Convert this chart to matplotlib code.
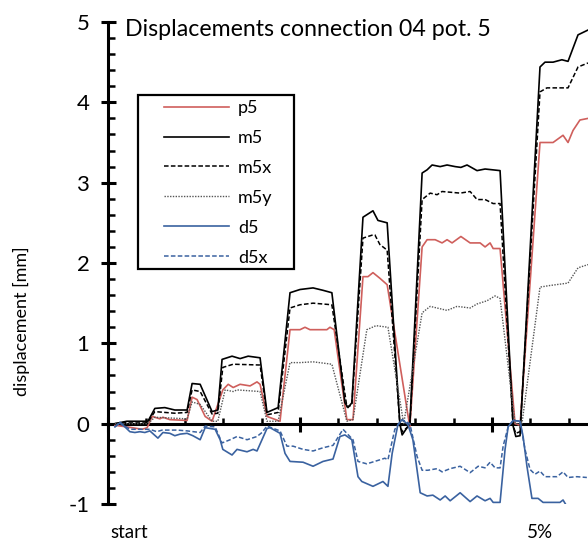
import numpy as np
import matplotlib
matplotlib.use('Agg')
import matplotlib.pyplot as plt
from matplotlib.ticker import MultipleLocator
from matplotlib.patches import Rectangle
import matplotlib.transforms as mtransforms

plt.rcParams['font.family'] = ['Lato', 'DejaVu Sans']
plt.rcParams['axes.unicode_minus'] = False

# time axis in load-step units (one minor tick = 1)
p5_t = [0.18, 0.49, 0.89, 1.02, 1.15, 1.35, 1.43, 1.61, 2.06, 2.19, 2.32, 2.53, 2.71, 2.99,
        3.13, 3.26, 3.44, 3.70, 3.88, 3.96, 4.14, 4.48, 4.74, 5.00, 5.13, 5.26, 5.70, 5.78,
        5.89, 6.22, 6.38, 6.64, 6.77, 6.90, 7.08, 7.27, 7.86, 8.18, 8.31, 8.52, 8.70, 8.83,
        8.96, 9.19, 9.43, 9.69, 9.82, 9.95, 10.03, 10.21, 10.60, 10.73, 11.25, 11.59, 11.85,
        11.98, 12.11, 12.29, 12.50]
p5 = [-0.02, -0.04, -0.07, -0.05, 0.09, 0.06, 0.08, 0.05, 0.04, 0.33, 0.30, 0.09, 0.03, 0.42,
      0.49, 0.45, 0.49, 0.47, 0.52, 0.49, 0.09, 0.03, 1.17, 1.17, 1.20, 1.17, 1.17, 1.20,
      1.17, 0.05, 0.05, 1.83, 1.83, 1.88, 1.81, 1.73, -0.04, 2.20, 2.29, 2.29, 2.25, 2.29,
      2.25, 2.33, 2.25, 2.25, 2.20, 2.25, 2.18, 2.18, 0.00, -0.02, 3.50, 3.50, 3.59,
      3.50, 3.65, 3.78, 3.80]

m5_t = [0.18, 0.49, 1.04, 1.22, 1.48, 1.74, 2.06, 2.19, 2.40, 2.71, 2.86, 2.97, 3.23, 3.44,
        3.65, 3.96, 4.14, 4.43, 4.74, 5.00, 5.34, 5.60, 5.83, 6.17, 6.25, 6.35, 6.64, 6.90,
        7.03, 7.27, 7.60, 7.66, 7.86, 8.18, 8.31, 8.44, 8.65, 8.83, 9.04, 9.19, 9.35, 9.61,
        9.82, 10.21, 10.55, 10.62, 10.73, 11.25, 11.38, 11.59, 11.82, 11.98, 12.24, 12.50]
m5 = [0.00, 0.03, 0.03, 0.19, 0.20, 0.17, 0.17, 0.50, 0.49, 0.15, 0.17, 0.80, 0.84, 0.81,
      0.84, 0.82, 0.14, 0.20, 1.63, 1.67, 1.69, 1.66, 1.63, 0.26, 0.20, 0.26, 2.57, 2.65,
      2.53, 2.50, 0.00, -0.14, 0.00, 3.12, 3.16, 3.22, 3.20, 3.22, 3.20, 3.19, 3.22, 3.15,
      3.17, 3.15, -0.03, -0.16, -0.15, 4.44, 4.50, 4.50, 4.53, 4.51, 4.84, 4.90]

m5x_t = [0.18, 0.49, 1.04, 1.22, 1.48, 1.74, 2.06, 2.19, 2.40, 2.71, 2.86, 2.99, 3.26, 3.96,
         4.14, 4.43, 4.74, 5.00, 5.34, 5.83, 6.22, 6.35, 6.64, 6.90, 6.95, 7.08, 7.27, 7.60,
         7.66, 7.86, 8.18, 8.39, 8.57, 8.70, 9.17, 9.43, 9.61, 9.82, 10.03, 10.21, 10.55,
         10.62, 10.73, 11.25, 11.43, 11.98, 12.24, 12.50]
m5x = [0.00, 0.02, 0.02, 0.15, 0.14, 0.13, 0.14, 0.42, 0.40, 0.12, 0.13, 0.70, 0.74, 0.73,
       0.11, 0.14, 1.44, 1.48, 1.50, 1.48, 0.21, 0.23, 2.31, 2.35, 2.35, 2.23, 2.16, 0.00,
       -0.10, -0.02, 2.79, 2.87, 2.85, 2.89, 2.87, 2.89, 2.79, 2.79, 2.74, 2.74, -0.03,
       -0.12, -0.10, 4.13, 4.18, 4.18, 4.44, 4.49]

m5y_t = [0.18, 1.04, 1.22, 2.06, 2.19, 2.40, 2.71, 2.86, 3.05, 3.26, 3.36, 3.96, 4.14, 4.43,
         4.74, 5.00, 5.34, 5.83, 6.22, 6.38, 6.74, 6.98, 7.29, 7.70, 8.18, 8.39, 8.83, 9.09,
         9.43, 9.61, 9.87, 10.08, 10.21, 10.60, 10.78, 11.25, 11.51, 11.98, 12.24, 12.50]
m5y = [0.00, 0.00, 0.08, 0.06, 0.27, 0.24, 0.03, 0.03, 0.42, 0.40, 0.42, 0.40, 0.03, 0.03,
       0.76, 0.76, 0.77, 0.74, 0.03, 0.05, 1.17, 1.22, 1.20, 0.00, 1.38, 1.46, 1.41, 1.46,
       1.44, 1.49, 1.53, 1.59, 1.56, 0.00, 0.00, 1.70, 1.72, 1.75, 1.94, 1.98]

d5_t = [0.18, 0.31, 0.44, 0.57, 0.70, 0.83, 0.96, 1.09, 1.30, 1.43, 1.61, 1.74, 1.88, 2.06,
        2.21, 2.40, 2.53, 2.66, 2.79, 2.92, 2.99, 3.23, 3.36, 3.62, 3.78, 3.88, 4.01, 4.14,
        4.22, 4.48, 4.61, 4.74, 5.08, 5.34, 5.60, 5.86, 6.04, 6.17, 6.35, 6.51, 6.61, 6.90,
        7.16, 7.29, 7.40, 7.55, 7.66, 7.81, 7.94, 8.13, 8.31, 8.46, 8.65, 8.78, 8.91, 9.17,
        9.43, 9.61, 9.82, 9.95, 10.03, 10.21, 10.34, 10.42, 10.55, 10.73, 10.81, 10.91,
        11.04, 11.20, 11.33, 11.77, 11.85, 11.95, 12.16]
d5 = [-0.04, 0.01, -0.04, -0.10, -0.11, -0.10, -0.11, -0.09, -0.18, -0.11, -0.12, -0.15,
      -0.13, -0.12, -0.15, -0.20, -0.05, -0.06, -0.07, -0.20, -0.32, -0.39, -0.32, -0.35,
      -0.32, -0.34, -0.20, -0.06, -0.05, -0.12, -0.37, -0.47, -0.48, -0.53, -0.47, -0.44,
      -0.16, -0.14, -0.20, -0.66, -0.72, -0.78, -0.72, -0.78, -0.37, -0.01, 0.05, -0.01,
      -0.20, -0.86, -0.90, -0.89, -0.95, -0.90, -0.96, -0.86, -0.97, -0.90, -0.96, -0.93,
      -0.98, -0.98, -0.32, -0.04, 0.04, 0.03, -0.16, -0.53, -0.93, -0.93, -0.98, -0.98,
      -0.95, -1.03, -1.03]

d5x_t = [0.18, 0.31, 0.44, 0.57, 1.09, 1.27, 1.41, 1.80, 2.06, 2.40, 2.53, 2.79, 2.97, 3.18,
         3.36, 3.62, 3.88, 4.01, 4.14, 4.48, 4.66, 4.82, 5.08, 5.34, 5.60, 5.86, 6.12, 6.38,
         6.51, 6.74, 7.08, 7.21, 7.29, 7.47, 7.66, 7.86, 8.05, 8.18, 8.33, 8.57, 8.70, 8.91,
         9.17, 9.43, 9.64, 9.82, 9.95, 10.08, 10.21, 10.29, 10.42, 10.55, 10.73, 10.86,
         10.99, 11.12, 11.25, 11.38, 11.69, 11.85, 11.98, 12.21, 12.47]
d5x = [-0.04, 0.02, -0.03, -0.07, -0.07, -0.10, -0.08, -0.08, -0.09, -0.11, -0.03, -0.04,
       -0.24, -0.20, -0.16, -0.20, -0.16, -0.11, -0.03, -0.09, -0.28, -0.28, -0.32, -0.34,
       -0.30, -0.27, -0.07, -0.20, -0.47, -0.50, -0.45, -0.43, -0.45, -0.07, 0.05, 0.00,
       -0.41, -0.58, -0.58, -0.56, -0.60, -0.56, -0.53, -0.61, -0.53, -0.55, -0.48, -0.55,
       -0.55, -0.28, -0.04, 0.04, 0.03, -0.32, -0.57, -0.63, -0.59, -0.66, -0.66, -0.60,
       -0.67, -0.66, -0.67]

x_label_text = ['start', '5%']
x_label_pos = [0.55, 11.25]
y_ticks = [-1, 0, 1, 2, 3, 4, 5]

red = '#cf5f5c'
blue = '#3a62a0'

fig = plt.figure(figsize=(5.88, 5.4), dpi=100)
ax = fig.add_axes([108 / 588, 36 / 540, 480 / 588, 482 / 540])

ax.plot(p5_t, p5, color=red, lw=1.2, label='p5', zorder=3)
ax.plot(m5_t, m5, color='black', lw=1.2, label='m5', zorder=3)
ax.plot(m5x_t, m5x, color='black', lw=1.1, ls=(0, (3, 1.5)), label='m5x', zorder=3)
ax.plot(m5y_t, m5y, color='#555555', lw=1.0, ls=(0, (1, 1)), label='m5y', zorder=3)
ax.plot(d5_t, d5, color=blue, lw=1.2, label='d5', zorder=3)
ax.plot(d5x_t, d5x, color=blue, lw=1.1, ls=(0, (3, 1.5)), label='d5x', zorder=3)

ax.set_xlim(0, 12.5)
ax.set_ylim(-1, 5)

for s in ['top', 'right']:
    ax.spines[s].set_visible(False)
ax.spines['left'].set_linewidth(2.2)
ax.spines['bottom'].set_linewidth(2.2)
ax.spines['bottom'].set_position(('data', 0))

ax.set_yticks(y_ticks)
ax.yaxis.set_minor_locator(MultipleLocator(0.2))
ax.tick_params(axis='y', which='major', direction='inout', length=10.8, width=2.2,
               labelsize=16, pad=8)
ax.tick_params(axis='y', which='minor', direction='in', length=5, width=1.8)

ax.set_xticks([0, 5, 10])
ax.xaxis.set_minor_locator(MultipleLocator(1))
ax.tick_params(axis='x', which='major', direction='inout', length=10.8, width=2.2,
               labelbottom=False)
ax.tick_params(axis='x', which='minor', direction='in', length=4, width=1.8)

# category labels below the plot
trans = mtransforms.blended_transform_factory(ax.transData, ax.transAxes)
for pos, txt in zip(x_label_pos, x_label_text):
    ax.text(pos, -0.06, txt, transform=trans, ha='center', va='center', fontsize=13.5,
            clip_on=False)

fig.text(125 / 588, 1 - 30 / 540, 'Displacements connection 04 pot. 5', ha='left',
         va='center', fontsize=16.7)
fig.text(21 / 588, 1 - 321 / 540, 'displacement [mm]', rotation=90, ha='center',
         va='center', fontsize=13)

# legend with a plain black frame
frame = Rectangle((138 / 588, 1 - 269 / 540), 156 / 588, 174 / 540, transform=fig.transFigure,
                  facecolor='white', edgecolor='black', lw=1.6, zorder=4, clip_on=False)
ax.add_patch(frame)
leg = ax.legend(loc='upper left', bbox_to_anchor=(164 / 588, 1 - 100 / 540),
                bbox_transform=fig.transFigure, frameon=False, fontsize=13,
                handlelength=3.6, handletextpad=0.5, labelspacing=0.77, borderpad=0,
                borderaxespad=0)
leg.set_zorder(5)

fig.savefig('out.png', dpi=100)
